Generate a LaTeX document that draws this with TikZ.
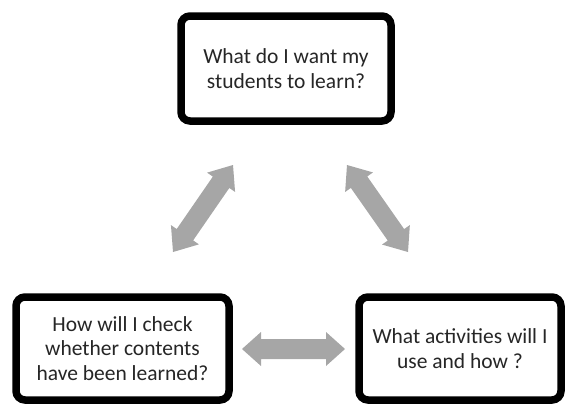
\documentclass[tikz,border=0pt]{standalone}
\usepackage{fontspec}
\setmainfont{Carlito}
\usetikzlibrary{calc,shadows}
\definecolor{txt}{HTML}{262626}
\definecolor{arr}{HTML}{A6A6A6}
\tikzset{
  qbox/.style={draw=black, line width=7.5pt, rounded corners=9pt, fill=white,
    align=center, text=txt, font=\fontsize{21.5}{24.5}\selectfont, inner sep=0pt,
    drop shadow={shadow xshift=2pt, shadow yshift=-3pt, opacity=0.25}},
  blockarrow/.style={fill=arr, draw=none}
}
\newcommand\dblarrow[5]{% from, to, headlen, headhalf, shafthalf
  \coordinate (h1) at ($(#1)!#3!(#2)$);
  \coordinate (h2) at ($(#2)!#3!(#1)$);
  \fill[blockarrow] (#1) -- ($(h1)!#4!90:(#1)$) -- ($(h1)!#5!90:(#1)$)
    -- ($(h2)!#5!-90:(#2)$) -- ($(h2)!#4!-90:(#2)$) -- (#2)
    -- ($(h2)!#4!90:(#2)$) -- ($(h2)!#5!90:(#2)$)
    -- ($(h1)!#5!-90:(#1)$) -- ($(h1)!#4!-90:(#1)$) -- cycle;
}
\begin{document}
\begin{tikzpicture}[x=1pt,y=-1pt]
\useasboundingbox (0,0) rectangle (566,405);
\node[qbox, minimum width=210pt, minimum height=105pt] (top) at (286,68.5)
  {What do I want my\\students to learn?};
\node[qbox, minimum width=213pt, minimum height=103pt] (left) at (122.5,348.5)
  {How will I check\\whether contents\\have been learned?};
\node[qbox, minimum width=202pt, minimum height=103pt] (right) at (460,348.5)
  {What activities will I\\use and how ?};
\coordinate (la) at (173,252);
\coordinate (lb) at (233,165);
\coordinate (ra) at (347,165);
\coordinate (rb) at (408,252);
\coordinate (ha) at (242,349);
\coordinate (hb) at (345,349);
\dblarrow{la}{lb}{21pt}{17pt}{10pt}
\dblarrow{ra}{rb}{21pt}{17pt}{10pt}
\dblarrow{ha}{hb}{19pt}{17pt}{10pt}
\end{tikzpicture}
\end{document}
